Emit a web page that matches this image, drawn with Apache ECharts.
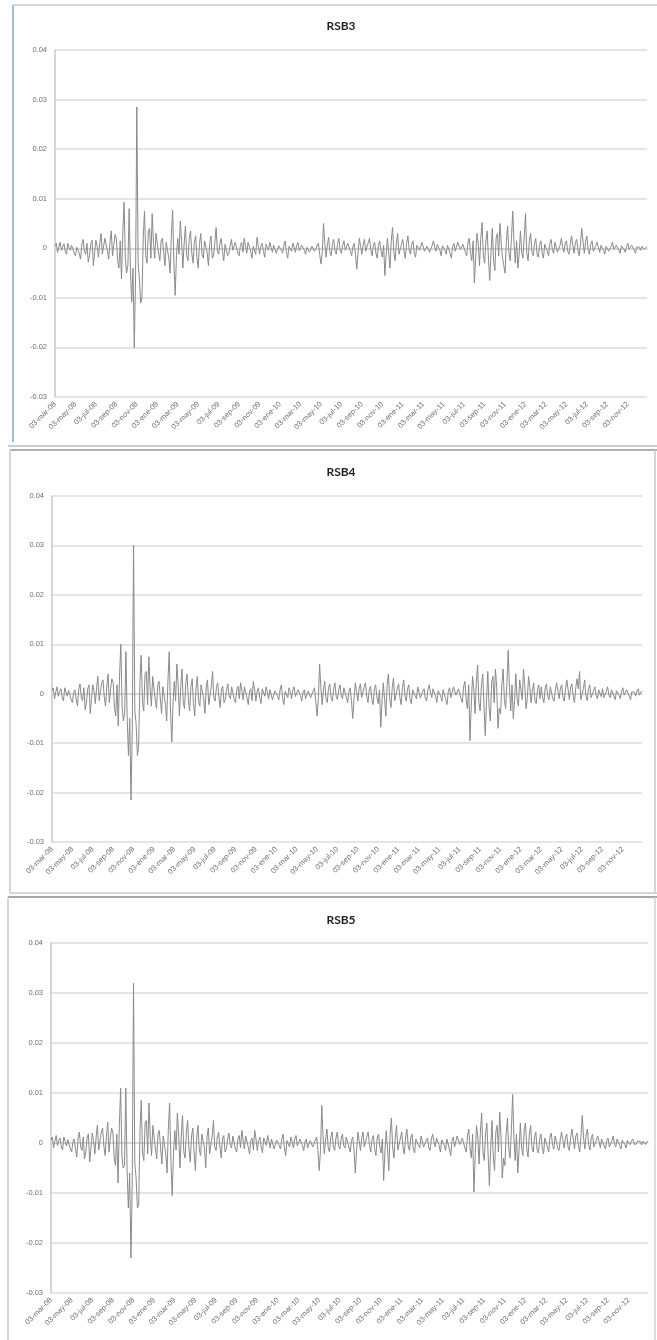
<!DOCTYPE html>
<html>
<head>
<meta charset="utf-8">
<script src="https://cdn.jsdelivr.net/npm/echarts@6/dist/echarts.min.js"></script>
<style>
html,body{margin:0;padding:0;background:#fff;}
#c{width:657px;height:1340px;}
</style>
</head>
<body>
<div id="c"></div>
<script>
// Tick labels on the date axis (one every two months)
var tickLabels = ['03-mar-08','03-may-08','03-jul-08','03-sep-08','03-nov-08','03-ene-09','03-mar-09','03-may-09','03-jul-09','03-sep-09','03-nov-09','03-ene-10','03-mar-10','03-may-10','03-jul-10','03-sep-10','03-nov-10','03-ene-11','03-mar-11','03-may-11','03-jul-11','03-sep-11','03-nov-11','03-ene-12','03-mar-12','03-may-12','03-jul-12','03-sep-12','03-nov-12'];
var pointsPerLabel = 16;

var titles = ['RSB3','RSB4','RSB5'];

var rsb3 = [
0.0005,0.0010,-0.0008,0.0003,0.0012,-0.0004,0.0004,0.0009,-0.0006,-0.0012,0.0010,0.0002,-0.0004,0.0006,0.0008,-0.0010,
-0.0015,0.0002,0.0006,-0.0010,-0.0022,0.0008,0.0018,-0.0006,-0.0012,0.0010,-0.0028,-0.0015,0.0009,0.0016,-0.0035,-0.0008,
0.0016,0.0004,-0.0018,0.0010,0.0030,-0.0012,-0.0010,0.0020,0.0024,-0.0005,-0.0022,0.0012,0.0035,-0.0015,0.0008,0.0028,
0.0020,-0.0025,-0.0040,0.0015,-0.0062,0.0030,0.0093,-0.0020,-0.0050,-0.0035,0.0080,-0.0045,-0.0108,-0.0040,-0.0200,-0.0060,
0.0285,-0.0030,-0.0060,-0.0110,-0.0100,0.0020,0.0075,-0.0015,-0.0030,0.0035,0.0040,-0.0020,0.0070,0.0010,-0.0020,0.0030,
0.0030,-0.0010,-0.0025,0.0015,0.0020,-0.0008,-0.0035,0.0012,0.0010,-0.0020,-0.0050,0.0025,0.0077,-0.0030,-0.0095,-0.0015,
0.0020,-0.0012,0.0055,0.0015,-0.0040,0.0010,0.0045,-0.0015,-0.0025,0.0020,0.0035,-0.0010,-0.0030,0.0012,0.0025,-0.0018,
-0.0040,0.0008,0.0030,-0.0012,-0.0020,0.0015,0.0018,-0.0008,-0.0035,0.0010,0.0025,-0.0020,-0.0015,0.0012,0.0042,-0.0006,
-0.0012,0.0010,0.0020,-0.0006,-0.0025,0.0008,0.0012,-0.0015,-0.0010,0.0006,0.0018,-0.0004,-0.0008,0.0012,0.0015,-0.0010,
-0.0015,0.0006,0.0012,-0.0008,0.0020,0.0005,-0.0010,0.0012,0.0015,-0.0006,-0.0020,0.0004,0.0008,-0.0012,0.0022,0.0006,
-0.0012,0.0004,0.0010,-0.0006,-0.0018,0.0008,0.0006,-0.0004,0.0012,0.0002,-0.0008,0.0006,0.0004,-0.0010,-0.0006,0.0005,
0.0008,-0.0004,-0.0010,0.0006,0.0015,-0.0008,-0.0020,0.0004,0.0005,-0.0006,0.0010,0.0003,-0.0008,0.0006,0.0012,-0.0005,
-0.0005,0.0006,0.0008,-0.0004,-0.0012,0.0002,0.0006,-0.0008,-0.0010,0.0004,0.0004,-0.0006,-0.0008,0.0005,0.0010,-0.0012,
-0.0032,-0.0010,0.0050,0.0010,-0.0018,0.0006,0.0022,-0.0008,-0.0015,0.0010,0.0018,-0.0006,-0.0012,0.0008,0.0020,-0.0004,
-0.0010,0.0006,0.0015,-0.0004,-0.0008,0.0010,0.0012,-0.0006,-0.0015,0.0004,0.0010,-0.0012,-0.0042,-0.0010,0.0020,0.0004,
-0.0012,0.0008,0.0018,-0.0006,-0.0010,0.0012,0.0020,-0.0004,-0.0015,0.0006,0.0012,-0.0010,-0.0020,0.0008,0.0015,-0.0006,
-0.0018,0.0006,-0.0055,-0.0012,0.0020,-0.0010,-0.0040,0.0015,0.0042,-0.0008,-0.0025,0.0010,0.0030,-0.0012,-0.0015,0.0008,
0.0018,-0.0006,-0.0020,0.0010,0.0025,-0.0004,-0.0012,0.0008,0.0015,-0.0010,-0.0018,0.0006,0.0010,-0.0004,-0.0008,0.0012,
0.0012,-0.0006,-0.0010,0.0004,0.0008,-0.0008,-0.0012,0.0006,0.0015,0.0002,-0.0006,0.0008,0.0010,-0.0004,-0.0015,0.0005,
0.0008,-0.0004,-0.0012,0.0006,0.0006,-0.0010,-0.0020,0.0004,0.0010,-0.0006,-0.0008,0.0012,0.0012,-0.0002,-0.0005,0.0008,
0.0010,-0.0008,-0.0015,0.0012,0.0020,-0.0010,-0.0025,0.0015,-0.0070,-0.0020,0.0030,0.0010,-0.0035,0.0020,0.0052,-0.0015,
-0.0030,0.0015,0.0035,-0.0020,-0.0065,-0.0010,0.0040,-0.0025,-0.0045,0.0020,0.0030,-0.0015,0.0050,0.0010,-0.0020,-0.0035,
-0.0050,0.0015,0.0045,-0.0010,-0.0025,0.0020,0.0075,0.0010,-0.0030,0.0015,-0.0040,-0.0012,0.0035,-0.0008,-0.0020,0.0025,
0.0070,-0.0010,-0.0025,0.0015,0.0030,-0.0008,-0.0015,0.0010,0.0020,-0.0012,-0.0018,0.0006,0.0015,-0.0010,-0.0020,0.0008,
0.0012,-0.0006,-0.0015,0.0010,0.0018,-0.0004,-0.0010,0.0012,0.0015,-0.0008,-0.0012,0.0006,0.0020,0.0004,-0.0008,0.0010,
0.0015,-0.0006,-0.0012,0.0008,0.0025,0.0006,-0.0010,0.0012,0.0018,-0.0004,-0.0015,0.0010,0.0040,0.0012,-0.0010,0.0015,
0.0025,-0.0004,-0.0012,0.0008,0.0015,-0.0006,-0.0010,0.0006,0.0012,0.0002,-0.0008,0.0006,0.0010,-0.0004,-0.0012,0.0004,
0.0008,-0.0006,-0.0010,0.0004,0.0012,-0.0002,-0.0006,0.0006,0.0008,-0.0004,-0.0010,0.0005,0.0006,-0.0002,-0.0008,0.0004,
0.0010,-0.0002,-0.0005,0.0006,0.0008,-0.0004,-0.0010,0.0003,0.0006,0.0002,-0.0004,0.0004,0.0008,-0.0002,0.0002,0.0004
];

var rsb4 = [
0.0006,0.0012,-0.0010,0.0004,0.0014,-0.0005,0.0005,0.0010,-0.0008,-0.0014,0.0012,0.0003,-0.0005,0.0007,0.0010,-0.0012,
-0.0018,0.0003,0.0008,-0.0012,-0.0025,0.0010,0.0020,-0.0008,-0.0014,0.0012,-0.0032,-0.0018,0.0010,0.0018,-0.0040,-0.0010,
0.0018,0.0005,-0.0020,0.0012,0.0035,-0.0014,-0.0012,0.0022,0.0028,-0.0006,-0.0025,0.0014,0.0040,-0.0018,0.0010,0.0030,
0.0022,-0.0028,-0.0045,0.0018,-0.0065,0.0035,0.0100,-0.0025,-0.0055,-0.0040,0.0085,-0.0050,-0.0125,-0.0050,-0.0215,-0.0070,
0.0300,-0.0035,-0.0060,-0.0125,-0.0105,0.0025,0.0078,-0.0018,-0.0035,0.0040,0.0045,-0.0022,0.0075,0.0012,-0.0025,0.0035,
0.0035,-0.0012,-0.0030,0.0018,0.0025,-0.0010,-0.0040,0.0014,0.0012,-0.0022,-0.0055,0.0028,0.0085,-0.0035,-0.0098,-0.0018,
0.0025,-0.0014,0.0060,0.0018,-0.0045,0.0012,0.0050,-0.0018,-0.0030,0.0022,0.0040,-0.0012,-0.0035,0.0014,0.0030,-0.0020,
-0.0045,0.0010,0.0035,-0.0014,-0.0025,0.0018,0.0020,-0.0010,-0.0040,0.0012,0.0028,-0.0022,-0.0018,0.0014,0.0045,-0.0008,
-0.0015,0.0012,0.0022,-0.0008,-0.0028,0.0010,0.0015,-0.0018,-0.0012,0.0008,0.0020,-0.0005,-0.0010,0.0014,0.0018,-0.0012,
-0.0018,0.0008,0.0015,-0.0010,0.0022,0.0006,-0.0012,0.0014,0.0018,-0.0008,-0.0022,0.0005,0.0010,-0.0014,0.0025,0.0008,
-0.0015,0.0005,0.0012,-0.0008,-0.0020,0.0010,0.0008,-0.0005,0.0014,0.0003,-0.0010,0.0008,0.0005,-0.0012,-0.0008,0.0006,
0.0010,-0.0005,-0.0012,0.0008,0.0018,-0.0010,-0.0022,0.0005,0.0006,-0.0008,0.0012,0.0004,-0.0010,0.0008,0.0014,-0.0006,
-0.0006,0.0008,0.0010,-0.0005,-0.0015,0.0003,0.0008,-0.0010,-0.0012,0.0005,0.0005,-0.0008,-0.0010,0.0006,0.0012,-0.0015,
-0.0045,-0.0012,0.0060,0.0012,-0.0022,0.0008,0.0025,-0.0010,-0.0018,0.0012,0.0020,-0.0008,-0.0015,0.0010,0.0022,-0.0005,
-0.0012,0.0008,0.0018,-0.0005,-0.0010,0.0012,0.0015,-0.0008,-0.0018,0.0005,0.0012,-0.0014,-0.0050,-0.0012,0.0022,0.0005,
-0.0015,0.0010,0.0020,-0.0008,-0.0012,0.0014,0.0022,-0.0005,-0.0018,0.0008,0.0015,-0.0012,-0.0022,0.0010,0.0018,-0.0008,
-0.0020,0.0008,-0.0068,-0.0015,0.0022,-0.0012,-0.0045,0.0018,0.0040,-0.0010,-0.0028,0.0012,0.0032,-0.0014,-0.0018,0.0010,
0.0020,-0.0008,-0.0022,0.0012,0.0028,-0.0005,-0.0015,0.0010,0.0018,-0.0012,-0.0020,0.0008,0.0012,-0.0005,-0.0010,0.0014,
0.0014,-0.0008,-0.0012,0.0005,0.0010,-0.0010,-0.0015,0.0008,0.0018,0.0003,-0.0008,0.0010,0.0012,-0.0005,-0.0018,0.0006,
0.0010,-0.0005,-0.0015,0.0008,0.0008,-0.0012,-0.0022,0.0005,0.0012,-0.0008,-0.0010,0.0014,0.0015,-0.0003,-0.0006,0.0010,
0.0012,-0.0010,-0.0018,0.0014,0.0025,-0.0012,-0.0030,0.0018,-0.0095,-0.0025,0.0035,0.0012,-0.0040,0.0022,0.0058,-0.0018,
-0.0035,0.0018,0.0040,-0.0022,-0.0085,-0.0012,0.0045,-0.0028,-0.0055,0.0022,0.0035,-0.0018,0.0050,0.0012,-0.0070,-0.0030,
-0.0040,0.0018,0.0050,-0.0012,-0.0030,0.0022,0.0088,0.0012,-0.0035,0.0018,-0.0050,-0.0014,0.0040,-0.0010,-0.0025,0.0028,
0.0030,-0.0012,0.0050,0.0018,-0.0030,-0.0010,0.0035,0.0012,-0.0018,0.0008,0.0022,-0.0014,-0.0020,0.0008,0.0018,-0.0010,
0.0014,-0.0008,-0.0018,0.0012,0.0020,-0.0005,-0.0012,0.0014,0.0018,-0.0010,-0.0015,0.0008,0.0022,0.0005,-0.0010,0.0012,
0.0018,-0.0008,-0.0015,0.0010,0.0028,0.0008,-0.0012,0.0014,0.0020,-0.0005,-0.0018,0.0012,0.0030,0.0010,0.0045,-0.0012,
-0.0015,0.0010,0.0028,-0.0005,-0.0014,0.0010,0.0018,-0.0008,-0.0012,0.0006,0.0014,-0.0004,-0.0010,0.0008,0.0012,-0.0006,
0.0010,-0.0008,-0.0012,0.0005,0.0014,-0.0003,-0.0008,0.0008,0.0010,-0.0005,-0.0012,0.0006,0.0008,-0.0003,-0.0010,0.0005,
0.0012,-0.0003,-0.0006,0.0008,0.0010,-0.0005,-0.0012,0.0004,0.0008,0.0003,-0.0005,0.0005,0.0010,-0.0003,0.0003,0.0005
];

var rsb5 = [
0.0006,0.0012,-0.0010,0.0004,0.0015,-0.0005,0.0005,0.0010,-0.0008,-0.0014,0.0012,0.0003,-0.0006,0.0007,0.0010,-0.0012,
-0.0018,0.0003,0.0008,-0.0012,-0.0028,0.0010,0.0022,-0.0008,-0.0015,0.0012,-0.0032,-0.0018,0.0010,0.0018,-0.0038,-0.0010,
0.0020,0.0005,-0.0022,0.0012,0.0036,-0.0014,-0.0012,0.0022,0.0030,-0.0006,-0.0025,0.0014,0.0042,-0.0018,0.0010,0.0030,
0.0020,-0.0030,-0.0045,0.0018,-0.0080,0.0035,0.0110,-0.0025,-0.0050,-0.0045,0.0110,-0.0055,-0.0130,-0.0060,-0.0230,-0.0080,
0.0320,-0.0040,-0.0070,-0.0130,-0.0125,0.0025,0.0085,-0.0020,-0.0035,0.0040,0.0045,-0.0022,0.0080,0.0012,-0.0025,0.0035,
0.0035,-0.0012,-0.0032,0.0018,0.0025,-0.0010,-0.0042,0.0014,0.0012,-0.0022,-0.0060,0.0028,0.0080,-0.0035,-0.0105,-0.0020,
0.0025,-0.0014,0.0060,0.0018,-0.0050,0.0012,0.0055,-0.0018,-0.0030,0.0022,0.0045,-0.0012,-0.0038,0.0014,0.0030,-0.0020,
-0.0055,0.0010,0.0035,-0.0014,-0.0025,0.0018,0.0022,-0.0010,-0.0050,0.0012,0.0030,-0.0022,-0.0018,0.0014,0.0045,-0.0008,
-0.0015,0.0012,0.0022,-0.0008,-0.0030,0.0010,0.0015,-0.0018,-0.0012,0.0008,0.0020,-0.0005,-0.0010,0.0014,0.0018,-0.0012,
-0.0018,0.0008,0.0015,-0.0010,0.0025,0.0006,-0.0012,0.0014,0.0018,-0.0008,-0.0022,0.0005,0.0010,-0.0014,0.0025,0.0008,
-0.0015,0.0005,0.0012,-0.0008,-0.0020,0.0010,0.0008,-0.0005,0.0015,0.0003,-0.0010,0.0008,0.0005,-0.0012,-0.0008,0.0006,
0.0010,-0.0005,-0.0012,0.0008,0.0018,-0.0010,-0.0025,0.0005,0.0006,-0.0008,0.0012,0.0004,-0.0010,0.0008,0.0015,-0.0006,
-0.0006,0.0008,0.0010,-0.0005,-0.0015,0.0003,0.0008,-0.0010,-0.0012,0.0005,0.0005,-0.0008,-0.0010,0.0006,0.0012,-0.0015,
-0.0055,-0.0015,0.0075,0.0012,-0.0022,0.0008,0.0028,-0.0010,-0.0018,0.0012,0.0022,-0.0008,-0.0015,0.0010,0.0022,-0.0005,
-0.0012,0.0008,0.0018,-0.0005,-0.0010,0.0012,0.0015,-0.0008,-0.0018,0.0005,0.0012,-0.0014,-0.0060,-0.0015,0.0022,0.0005,
-0.0015,0.0010,0.0022,-0.0008,-0.0012,0.0014,0.0022,-0.0005,-0.0018,0.0008,0.0015,-0.0012,-0.0025,0.0010,0.0018,-0.0008,
-0.0020,0.0008,-0.0075,-0.0015,0.0025,-0.0012,-0.0055,0.0018,0.0050,-0.0010,-0.0030,0.0012,0.0035,-0.0014,-0.0018,0.0010,
0.0022,-0.0008,-0.0022,0.0012,0.0028,-0.0005,-0.0015,0.0010,0.0018,-0.0012,-0.0020,0.0008,0.0012,-0.0005,-0.0010,0.0014,
0.0014,-0.0008,-0.0012,0.0005,0.0010,-0.0010,-0.0015,0.0008,0.0018,0.0003,-0.0008,0.0010,0.0012,-0.0005,-0.0018,0.0006,
0.0010,-0.0005,-0.0015,0.0008,0.0008,-0.0012,-0.0025,0.0005,0.0012,-0.0008,-0.0010,0.0014,0.0015,-0.0003,-0.0006,0.0010,
0.0012,-0.0010,-0.0018,0.0014,0.0028,-0.0012,-0.0030,0.0018,-0.0098,-0.0025,0.0035,0.0012,-0.0042,0.0022,0.0060,-0.0018,
-0.0035,0.0018,0.0040,-0.0022,-0.0085,-0.0012,0.0045,-0.0028,-0.0055,0.0022,0.0035,-0.0018,0.0062,0.0012,-0.0070,-0.0030,
-0.0045,0.0018,0.0050,-0.0012,-0.0030,0.0022,0.0097,0.0012,-0.0035,0.0018,-0.0060,-0.0014,0.0040,-0.0010,-0.0025,0.0028,
0.0040,-0.0012,-0.0028,0.0018,0.0035,-0.0010,-0.0018,0.0012,0.0022,-0.0014,-0.0020,0.0008,0.0018,-0.0010,-0.0022,0.0010,
0.0014,-0.0008,-0.0018,0.0012,0.0020,-0.0005,-0.0012,0.0014,0.0018,-0.0010,-0.0015,0.0008,0.0022,0.0005,-0.0010,0.0012,
0.0018,-0.0008,-0.0015,0.0010,0.0028,0.0008,-0.0012,0.0014,0.0020,-0.0005,-0.0018,0.0012,0.0055,0.0012,-0.0012,0.0016,
0.0028,-0.0005,-0.0014,0.0010,0.0018,-0.0008,-0.0012,0.0006,0.0014,0.0004,-0.0010,0.0008,0.0012,-0.0006,-0.0012,0.0005,
0.0010,-0.0008,-0.0012,0.0005,0.0014,-0.0003,-0.0008,0.0008,0.0010,-0.0005,-0.0012,0.0006,0.0008,-0.0003,-0.0010,0.0005,
0.0008,-0.0003,-0.0006,0.0008,0.0010,-0.0004,-0.0008,0.0004,0.0006,0.0003,-0.0004,0.0004,0.0006,-0.0003,0.0002,0.0004
];

var yMin = -0.03, yMax = 0.04, yStep = 0.01;

// category slots: a tick label every pointsPerLabel points
var categories = [];
for (var i = 0; i < rsb3.length; i++) {
  categories.push(i % pointsPerLabel === 0 ? tickLabels[i / pointsPerLabel] : '');
}

var seriesData = [rsb3, rsb4, rsb5];
var grids = [
  {left: 55, top: 50, width: 592, height: 347},
  {left: 52, top: 496, width: 590, height: 346},
  {left: 51, top: 943, width: 597, height: 350}
];
var titleY = [20, 466, 914];

var chart = echarts.init(document.getElementById('c'), null, {renderer: 'canvas'});

var opt = {
  backgroundColor: '#ffffff',
  animation: false,
  title: titles.map(function (t, k) {
    return {
      text: t, left: 341, top: titleY[k], textAlign: 'center', padding: 0,
      textStyle: {fontFamily: 'Lato, "Open Sans", sans-serif', fontWeight: 'bold', fontSize: 12, color: '#222'}
    };
  }),
  grid: grids.map(function (g) { return Object.assign({containLabel: false}, g); }),
  xAxis: grids.map(function (g, k) {
    return {
      type: 'category', gridIndex: k, data: categories, boundaryGap: false,
      axisLine: {show: true, lineStyle: {color: '#d4d4d4', width: 1.5}},
      axisTick: {show: false},
      splitLine: {show: false},
      axisLabel: {
        interval: pointsPerLabel - 1, rotate: 45, fontSize: 7.5, color: '#707070',
        fontFamily: '"Liberation Sans", Arial, sans-serif', margin: 6
      }
    };
  }),
  yAxis: grids.map(function (g, k) {
    return {
      type: 'value', gridIndex: k, min: yMin, max: yMax, interval: yStep,
      axisLine: {show: true, lineStyle: {color: '#c8c8c8', width: 1.5}},
      axisTick: {show: false},
      splitLine: {show: true, lineStyle: {color: '#dcdcdc', width: 1.5}},
      axisLabel: {fontSize: 7.5, color: '#707070', margin: 8,
        fontFamily: '"Liberation Sans", Arial, sans-serif'}
    };
  }),
  series: seriesData.map(function (d, k) {
    return {
      type: 'line', xAxisIndex: k, yAxisIndex: k, data: d,
      showSymbol: false, symbol: 'none', smooth: false,
      lineStyle: {color: '#8a8a8a', width: 1},
      z: 3
    };
  }),
  graphic: [
    // panel 1 frame
    {type: 'line', shape: {x1: 13, y1: 5, x2: 657, y2: 5}, style: {stroke: '#c8c8c8', lineWidth: 1.5}},
    {type: 'line', shape: {x1: 13, y1: 5, x2: 13, y2: 442}, style: {stroke: '#9dbbe3', lineWidth: 2}},
    {type: 'line', shape: {x1: 8, y1: 446, x2: 657, y2: 446}, style: {stroke: '#bdbdbd', lineWidth: 1.5}},
    // panel 2 frame
    {type: 'line', shape: {x1: 10, y1: 450, x2: 657, y2: 450}, style: {stroke: '#b0b0b0', lineWidth: 2}},
    {type: 'line', shape: {x1: 10, y1: 450, x2: 10, y2: 893}, style: {stroke: '#c8c8c8', lineWidth: 1.5}},
    {type: 'line', shape: {x1: 655, y1: 450, x2: 655, y2: 893}, style: {stroke: '#c8c8c8', lineWidth: 1.5}},
    {type: 'line', shape: {x1: 10, y1: 893, x2: 657, y2: 893}, style: {stroke: '#c8c8c8', lineWidth: 1.5}},
    // panel 3 frame
    {type: 'line', shape: {x1: 8, y1: 897, x2: 657, y2: 897}, style: {stroke: '#a8a8a8', lineWidth: 2}},
    {type: 'line', shape: {x1: 8, y1: 897, x2: 8, y2: 1340}, style: {stroke: '#c8c8c8', lineWidth: 1.5}},
    {type: 'line', shape: {x1: 655, y1: 897, x2: 655, y2: 1340}, style: {stroke: '#d0d0d0', lineWidth: 1.5}}
  ]
};
chart.setOption(opt);
</script>
</body>
</html>
